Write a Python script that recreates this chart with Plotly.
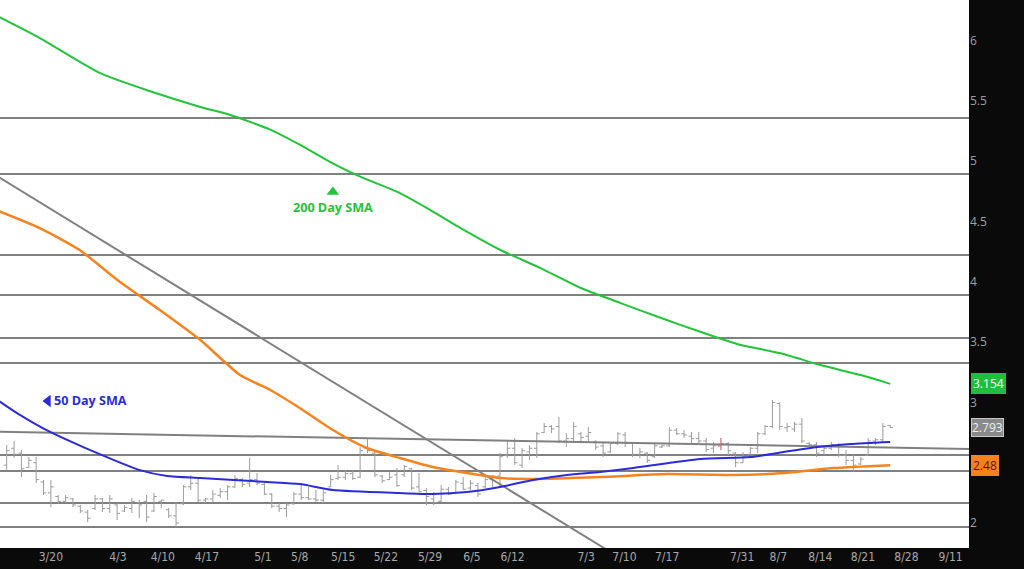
import plotly.graph_objects as go

# ---------------- data ----------------
bar_high = [2.647, 2.680, 2.605, 2.547, 2.547, 2.357, 2.357, 2.232, 2.232, 2.208,
            2.149, 2.108, 2.232, 2.208, 2.232, 2.166, 2.149, 2.208, 2.191, 2.232,
            2.249, 2.191, 2.124, 2.174, 2.315, 2.398, 2.381, 2.208, 2.274, 2.290,
            2.315, 2.398, 2.373, 2.539, 2.415, 2.332, 2.249, 2.166, 2.166, 2.257,
            2.332, 2.299, 2.274, 2.274, 2.398, 2.481, 2.439, 2.439, 2.630, 2.705,
            2.589, 2.398, 2.423, 2.456, 2.481, 2.456, 2.415, 2.290, 2.257, 2.315,
            2.299, 2.357, 2.381, 2.357, 2.332, 2.381, 2.398, 2.580, 2.688, 2.705,
            2.622, 2.647, 2.755, 2.829, 2.813, 2.879, 2.746, 2.837, 2.755, 2.796,
            2.688, 2.672, 2.672, 2.755, 2.755, 2.672, 2.622, 2.589, 2.663, 2.647,
            2.796, 2.788, 2.771, 2.755, 2.755, 2.705, 2.672, 2.705, 2.672, 2.589,
            2.589, 2.630, 2.755, 2.813, 3.020, 3.003, 2.829, 2.837, 2.871, 2.672,
            2.672, 2.630, 2.672, 2.663, 2.605, 2.564, 2.547, 2.705, 2.705, 2.829,
            2.813]
bar_low = [2.439, 2.539, 2.381, 2.456, 2.332, 2.232, 2.133, 2.166, 2.166, 2.133,
           2.083, 2.008, 2.108, 2.091, 2.083, 2.025, 2.091, 2.083, 2.041, 2.008,
           2.091, 2.124, 2.041, 1.967, 2.149, 2.274, 2.174, 2.166, 2.174, 2.208,
           2.191, 2.290, 2.299, 2.299, 2.315, 2.232, 2.124, 2.091, 2.050, 2.149,
           2.191, 2.191, 2.174, 2.166, 2.299, 2.357, 2.357, 2.357, 2.373, 2.580,
           2.381, 2.332, 2.357, 2.299, 2.381, 2.274, 2.257, 2.149, 2.149, 2.174,
           2.232, 2.257, 2.274, 2.274, 2.216, 2.290, 2.299, 2.299, 2.539, 2.481,
           2.456, 2.522, 2.539, 2.746, 2.746, 2.663, 2.630, 2.663, 2.663, 2.663,
           2.605, 2.547, 2.580, 2.647, 2.630, 2.547, 2.539, 2.498, 2.539, 2.622,
           2.630, 2.730, 2.705, 2.663, 2.647, 2.589, 2.580, 2.605, 2.564, 2.464,
           2.498, 2.564, 2.580, 2.730, 2.788, 2.771, 2.755, 2.755, 2.663, 2.630,
           2.547, 2.564, 2.605, 2.547, 2.481, 2.423, 2.481, 2.564, 2.647, 2.672,
           2.790]
bar_open = [2.48, 2.62, 2.58, 2.46, 2.50, 2.34, 2.25, 2.22, 2.18, 2.20,
            2.14, 2.09, 2.12, 2.20, 2.12, 2.15, 2.10, 2.12, 2.17, 2.18,
            2.10, 2.18, 2.11, 2.06, 2.16, 2.30, 2.33, 2.19, 2.20, 2.23,
            2.26, 2.30, 2.36, 2.33, 2.36, 2.32, 2.24, 2.14, 2.12, 2.16,
            2.24, 2.21, 2.20, 2.19, 2.30, 2.37, 2.38, 2.41, 2.38, 2.62,
            2.58, 2.39, 2.36, 2.40, 2.40, 2.45, 2.30, 2.27, 2.20, 2.18,
            2.28, 2.25, 2.33, 2.29, 2.31, 2.30, 2.36, 2.39, 2.56, 2.62,
            2.48, 2.59, 2.62, 2.75, 2.80, 2.80, 2.68, 2.70, 2.74, 2.72,
            2.67, 2.64, 2.59, 2.66, 2.73, 2.66, 2.57, 2.58, 2.55, 2.63,
            2.64, 2.77, 2.74, 2.72, 2.70, 2.68, 2.62, 2.64, 2.66, 2.58,
            2.50, 2.57, 2.62, 2.74, 2.80, 2.99, 2.79, 2.78, 2.82, 2.66,
            2.65, 2.60, 2.62, 2.64, 2.56, 2.52, 2.49, 2.56, 2.68, 2.69,
            2.81]
bar_close = [2.60, 2.57, 2.45, 2.52, 2.36, 2.25, 2.30, 2.18, 2.21, 2.15,
             2.10, 2.04, 2.20, 2.12, 2.20, 2.08, 2.13, 2.18, 2.15, 2.05,
             2.22, 2.19, 2.06, 2.00, 2.30, 2.33, 2.19, 2.20, 2.24, 2.26,
             2.30, 2.37, 2.32, 2.36, 2.33, 2.24, 2.14, 2.12, 2.15, 2.24,
             2.21, 2.20, 2.19, 2.25, 2.36, 2.38, 2.41, 2.37, 2.60, 2.60,
             2.40, 2.35, 2.38, 2.31, 2.47, 2.29, 2.26, 2.22, 2.17, 2.28,
             2.24, 2.34, 2.28, 2.33, 2.24, 2.36, 2.39, 2.55, 2.62, 2.50,
             2.60, 2.62, 2.74, 2.80, 2.78, 2.68, 2.70, 2.80, 2.71, 2.75,
             2.63, 2.58, 2.66, 2.74, 2.66, 2.57, 2.59, 2.52, 2.64, 2.64,
             2.77, 2.74, 2.73, 2.70, 2.68, 2.61, 2.64, 2.66, 2.60, 2.50,
             2.55, 2.62, 2.74, 2.80, 3.00, 2.80, 2.80, 2.82, 2.68, 2.65,
             2.58, 2.62, 2.65, 2.56, 2.52, 2.48, 2.53, 2.68, 2.69, 2.80,
             2.793]
bar_index = list(range(len(bar_high)))
red_bars = [97]

sma200_x = [-1, 4.5, 12.7, 19.5, 26.3, 30.3, 35.8, 39.8, 43.9, 48.0, 53.4, 57.5,
            61.6, 67.0, 72.5, 77.9, 83.3, 88.8, 94.2, 99.6, 105.1, 110.5, 116.0, 120]
sma200_y = [6.195, 6.021, 5.730, 5.580, 5.450, 5.385, 5.262, 5.137, 4.995, 4.872,
            4.736, 4.597, 4.448, 4.266, 4.114, 3.951, 3.826, 3.702, 3.586, 3.478,
            3.408, 3.310, 3.227, 3.154]

orange_x = [-1, 4.5, 9.9, 15.4, 20.8, 26.3, 31.7, 35.8, 39.8, 44.3, 48.9, 53.4,
            57.9, 62.5, 67.0, 71.5, 80.6, 89.7, 98.7, 105.5, 112.3, 120]
orange_y = [4.585, 4.446, 4.264, 3.998, 3.766, 3.517, 3.227, 3.103, 2.954, 2.771,
            2.622, 2.539, 2.464, 2.415, 2.373, 2.365, 2.381, 2.406, 2.398, 2.415,
            2.456, 2.48]

sma50_x = [-1, 1.4, 5.9, 10.4, 18.1, 21.8, 26.3, 35.4, 39.8, 44.3, 53.4, 57.9,
           62.5, 67.0, 71.5, 76.1, 80.6, 85.1, 94.2, 101.0, 105.5, 110.1, 114.6, 120]
sma50_y = [3.010, 2.912, 2.755, 2.630, 2.439, 2.390, 2.373, 2.340, 2.323, 2.274,
           2.249, 2.241, 2.257, 2.299, 2.357, 2.398, 2.423, 2.456, 2.531, 2.547,
           2.589, 2.630, 2.655, 2.672]

levels = [5.358, 4.894, 4.222, 3.891, 3.534, 3.327, 2.564, 2.431, 2.166, 1.967]

trend_flat_x = [-1, 131]
trend_flat_y = [2.756, 2.614]
trend_steep_x = [-1, 82]
trend_steep_y = [4.865, 1.760]

tick_pos = [6.0, 15.1, 21.2, 27.2, 34.8, 39.8, 45.7, 51.5, 57.5, 63.2, 68.7,
            78.7, 83.9, 89.7, 99.9, 104.8, 110.5, 116.3, 122.2, 128.2]
tick_text = ["3/20", "4/3", "4/10", "4/17", "5/1", "5/8", "5/15", "5/22", "5/29",
             "6/5", "6/12", "7/3", "7/10", "7/17", "7/31", "8/7", "8/14", "8/21",
             "8/28", "9/11"]
y_ticks = [2, 3, 3.5, 4, 4.5, 5, 5.5, 6]
y_tick_text = ["2", "3", "3.5", "4", "4.5", "5", "5.5", "6"]

last_200 = 3.154
last_price = 2.793
last_orange = 2.48

# ---------------- figure ----------------
GRAY = "#808080"
GREEN = "#22c43a"
ORANGE = "#f5841f"
BLUE = "#2b2bd9"

fig = go.Figure()

for lv in levels:
    fig.add_shape(type="line", xref="paper", x0=0, x1=1, yref="y", y0=lv, y1=lv,
                  line=dict(color=GRAY, width=2), layer="below")

fig.add_trace(go.Scatter(x=trend_flat_x, y=trend_flat_y, mode="lines",
                         line=dict(color=GRAY, width=2), hoverinfo="skip"))
fig.add_trace(go.Scatter(x=trend_steep_x, y=trend_steep_y, mode="lines",
                         line=dict(color=GRAY, width=2), hoverinfo="skip"))

fig.add_trace(go.Ohlc(x=bar_index, open=bar_open, high=bar_high, low=bar_low,
                      close=bar_close, tickwidth=0.4,
                      increasing=dict(line=dict(color="#9c9c9c", width=1)),
                      decreasing=dict(line=dict(color="#9c9c9c", width=1))))
fig.add_trace(go.Ohlc(x=[bar_index[i] for i in red_bars],
                      open=[bar_open[i] for i in red_bars],
                      high=[bar_high[i] for i in red_bars],
                      low=[bar_low[i] for i in red_bars],
                      close=[bar_close[i] for i in red_bars], tickwidth=0.4,
                      increasing=dict(line=dict(color="#e8808f", width=1)),
                      decreasing=dict(line=dict(color="#e8808f", width=1))))

fig.add_trace(go.Scatter(x=orange_x, y=orange_y, mode="lines", line_shape="spline",
                         line=dict(color=ORANGE, width=2.5, smoothing=0.6)))
fig.add_trace(go.Scatter(x=sma50_x, y=sma50_y, mode="lines", line_shape="spline",
                         line=dict(color=BLUE, width=2, smoothing=0.6)))
fig.add_trace(go.Scatter(x=sma200_x, y=sma200_y, mode="lines", line_shape="spline",
                         line=dict(color=GREEN, width=2, smoothing=0.6)))

# label markers
fig.add_trace(go.Scatter(x=[5.6], y=[3.012], mode="markers",
                         marker=dict(symbol="triangle-left", size=11, color=BLUE)))
fig.add_trace(go.Scatter(x=[44.3], y=[4.745], mode="markers",
                         marker=dict(symbol="triangle-up", size=11, color=GREEN)))

fig.add_annotation(x=6.1, y=3.012, xref="x", yref="y", text="<b>50 Day SMA</b>",
                   showarrow=False, xanchor="left",
                   font=dict(family="Open Sans", size=12.6, color=BLUE))
fig.add_annotation(x=44.3, y=4.620, xref="x", yref="y", text="<b>200 Day SMA</b>",
                   showarrow=False, xanchor="center",
                   font=dict(family="Open Sans", size=12.6, color=GREEN))

# value boxes on the right
fig.add_annotation(x=1, xref="paper", y=last_200, yref="y", text=f"{last_200:.3f}",
                   showarrow=False, xanchor="left", xshift=2, bgcolor="#1fbf3a",
                   bordercolor="#1fbf3a", borderpad=1,
                   font=dict(family="Open Sans", size=12, color="white"))
fig.add_annotation(x=1, xref="paper", y=last_price, yref="y", text=f"{last_price:.3f}",
                   showarrow=False, xanchor="left", xshift=2, bgcolor="#8a8a8a",
                   bordercolor="#c8c8c8", borderwidth=1, borderpad=0,
                   font=dict(family="Open Sans", size=12, color="#eeeeee"))
fig.add_annotation(x=1, xref="paper", y=last_orange, yref="y", text=f"{last_orange:.2f}",
                   showarrow=False, xanchor="left", xshift=2, bgcolor="#f5821f",
                   bordercolor="#f5821f", borderpad=1,
                   font=dict(family="Open Sans", size=12, color="#5a1800"))

fig.update_layout(
    width=1024, height=569, autosize=False,
    margin=dict(l=0, r=55, t=0, b=21, pad=0),
    paper_bgcolor="#0a0a0a", plot_bgcolor="white",
    showlegend=False,
    xaxis=dict(range=[-0.91, 130.7], tickvals=tick_pos, ticktext=tick_text,
               showgrid=False, zeroline=False, showline=False, ticks="",
               rangeslider=dict(visible=False),
               tickfont=dict(family="Liberation Sans Narrow, DejaVu Sans Condensed, Liberation Sans",
                             size=12, color="#a8a8a8")),
    yaxis=dict(range=[1.793, 6.337], side="right", tickvals=y_ticks, ticktext=y_tick_text,
               showgrid=False, zeroline=False, showline=False, ticks="",
               tickfont=dict(family="Open Sans", size=12, color="#a0a0a0")),
)

fig.write_html("out.html", config={"displayModeBar": False},
               post_script="document.body.style.margin='0';document.body.style.overflow='hidden';")
